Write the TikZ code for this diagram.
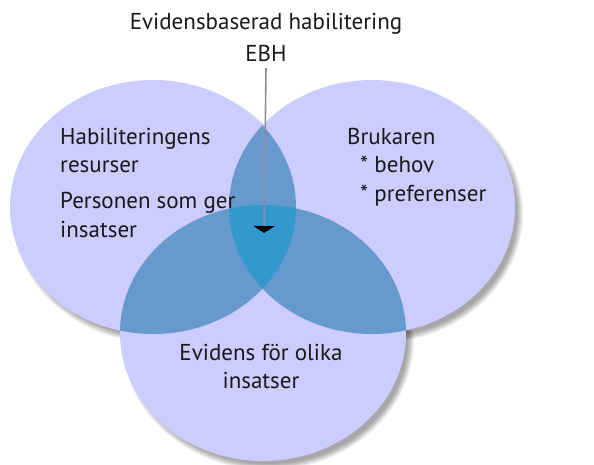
\documentclass[tikz,border=0pt]{standalone}
\usepackage{fontspec}
\setmainfont{PT Sans}
\usepackage{xcolor}
\usetikzlibrary{arrows.meta}

\definecolor{setfill}{HTML}{CCCCFF}
\definecolor{pairfill}{HTML}{6699CC}
\definecolor{corefill}{HTML}{3399CC}
\definecolor{pointer}{HTML}{8C8CA0}

\tikzset{
    lbl/.style={font=\fontsize{23}{28}\selectfont, text=black!90, inner sep=0pt},
    shadowring/.style={fill=black, opacity=0.06}
}

\newcommand{\leftset}{(153,207) ellipse [x radius=143, y radius=127]}
\newcommand{\rightset}{(372,207) ellipse [x radius=143, y radius=127]}
\newcommand{\bottomset}{(263,333) ellipse [x radius=143, y radius=128]}

\begin{document}
\begin{tikzpicture}[x=1pt,y=-1pt]
    \useasboundingbox (0,0) rectangle (594,465);

    % Shadows
    \foreach \cx/\cy/\ry in {153/207/127, 372/207/127, 263/333/128}
        \foreach \g in {-3,...,3}
            \fill[shadowring] (\cx+5,\cy+6) ellipse [x radius=143+\g, y radius=\ry+\g];

    % Sets
    \fill[setfill] \leftset;
    \fill[setfill] \rightset;
    \fill[setfill] \bottomset;

    % Pairwise overlaps
    \begin{scope}
        \clip \leftset;
        \fill[pairfill] \rightset;
        \fill[pairfill] \bottomset;
    \end{scope}
    \begin{scope}
        \clip \rightset;
        \fill[pairfill] \bottomset;
    \end{scope}

    % Core
    \begin{scope}
        \clip \leftset;
        \clip \rightset;
        \fill[corefill] \bottomset;
    \end{scope}

    % Labels
    \node[lbl, anchor=base] (title) at (266,30) {Evidensbaserad habilitering};
    \node[lbl, anchor=base] (ebh) at (266,62) {EBH};
    \node[lbl, anchor=base west] (habil) at (60,145) {Habiliteringens};
    \node[lbl, anchor=base west] (resurser) at (60,173) {resurser};
    \node[lbl, anchor=base west] (person) at (60,208) {Personen som ger};
    \node[lbl, anchor=base west] (insatsL) at (60,237) {insatser};
    \node[lbl, anchor=base west] (brukaren) at (347,145) {Brukaren};
    \node[lbl, anchor=base west] (behov) at (360,173) {* behov};
    \node[lbl, anchor=base west] (pref) at (360,202) {* preferenser};
    \node[lbl, anchor=base] (evidens) at (261,360) {Evidens för olika};
    \node[lbl, anchor=base] (insatsB) at (261,388) {insatser};

    % Pointer
    \coordinate (core) at (264,233);
    \draw[pointer, line width=1.6pt, -{Triangle[width=21pt,length=7pt,color=black]}]
        (ebh.south |- 0,68) -- (core);
\end{tikzpicture}
\end{document}
